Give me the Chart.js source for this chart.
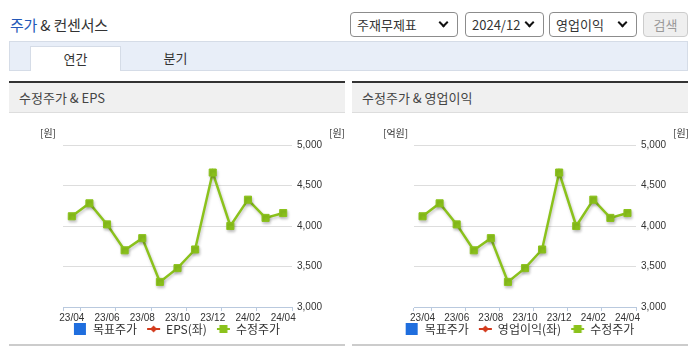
<!DOCTYPE html>
<html>
<head>
<meta charset="utf-8">
<script src="https://cdn.jsdelivr.net/npm/chart.js@4.4.1/dist/chart.umd.min.js"></script>
<style>
body{margin:0;width:695px;height:349px;overflow:hidden;background:#fff;position:relative;font-family:'Noto Sans CJK KR','Malgun Gothic',sans-serif;color:#333}
.abs{position:absolute}
#title{left:10px;top:15px;font-size:15px;letter-spacing:-0.2px;line-height:20px}
#title span{color:#2458b8}
.sel{position:absolute;top:12px;height:25px;box-sizing:border-box;border:1px solid #8c8c8c;border-radius:4px;font-size:13px;line-height:23px;padding-left:6px;background:#fff}
.sel i{position:absolute;right:10px;top:6px;width:5px;height:5px;border-right:2px solid #111;border-bottom:2px solid #111;transform:rotate(45deg)}
#btn{left:643px;width:45px;border-color:#ccc;background:#efefef;color:#999;text-align:center;padding:0}
#tabbar{left:9px;top:41px;width:679px;height:30px;box-sizing:border-box;background:#e8eef8;border:1px solid #d5dce7}
#tab1{left:30px;top:46px;width:91px;height:25px;box-sizing:border-box;background:#fff;border:1px solid #d5dce7;border-bottom:none;text-align:center;font-size:13px;line-height:23px}
#tab2{left:150px;top:46px;width:51px;text-align:center;font-size:13px;line-height:23px}
.ph{top:81px;width:336px;height:32px;box-sizing:border-box;border-top:2px solid #333;border-bottom:1px solid #ddd;background:#f0f0f0;font-size:13px;line-height:29px;padding-left:10px;color:#444}
.foot{top:344px;width:336px;height:2px;background:#ccc}
.unit{top:127px;font-size:10px;line-height:12px;color:#333}
.box{top:114px;width:336px;height:243px}
</style>
</head>
<body>
<div id="title" class="abs"><span>주가</span> &amp; 컨센서스</div>
<div class="sel" style="left:350px;width:108px">주재무제표<i></i></div>
<div class="sel" style="left:465px;width:79px">2024/12<i></i></div>
<div class="sel" style="left:549px;width:88px">영업이익<i></i></div>
<div class="sel" id="btn">검색</div>

<div id="tabbar" class="abs"></div>
<div id="tab1" class="abs">연간</div>
<div id="tab2" class="abs">분기</div>

<div class="abs ph" style="left:9px">수정주가 &amp; EPS</div>
<div class="abs ph" style="left:352px">수정주가 &amp; 영업이익</div>

<div class="abs box" style="left:9px"><canvas id="c1"></canvas></div>
<div class="abs box" style="left:352px"><canvas id="c2"></canvas></div>

<div class="abs unit" style="left:40px">[원]</div>
<div class="abs unit" style="left:329px">[원]</div>
<div class="abs unit" style="left:383px">[억원]</div>
<div class="abs unit" style="left:673px">[원]</div>

<div class="abs foot" style="left:9px"></div>
<div class="abs foot" style="left:352px"></div>

<script>
// monthly, 23/04 ~ 24/04
const months = ['23/04','23/05','23/06','23/07','23/08','23/09','23/10','23/11','23/12','24/01','24/02','24/03','24/04'];
const adjPrice = [4120, 4280, 4020, 3700, 3850, 3310, 3480, 3710, 4660, 4000, 4325, 4100, 4160];
const targetPrice = [];
const eps = [];
const opProfit = [];
const priceTicks = [3000, 3500, 4000, 4500, 5000];

const GREEN = '#8bc21c';
const BLUE = '#1f6ede';
const RED = '#d33a1c';

function legendIcon(kind, color) {
    var c = document.createElement('canvas');
    c.width = 15; c.height = 12;
    var g = c.getContext('2d');
    g.fillStyle = color;
    g.strokeStyle = color;
    if (kind == 'square') {
        g.fillRect(1, 0, 12, 12);
    } else {
        g.lineWidth = 2;
        g.beginPath(); g.moveTo(1, 6); g.lineTo(14, 6); g.stroke();
        g.beginPath();
        if (kind == 'diamond') {
            g.moveTo(7.5, 2.5); g.lineTo(11, 6); g.lineTo(7.5, 9.5); g.lineTo(4, 6);
        } else {
            g.rect(3.5, 2, 8, 8);
        }
        g.fill();
    }
    return c;
}
const icons = [legendIcon('square', BLUE), legendIcon('diamond', RED), legendIcon('rect', GREEN)];

const shadow = {
    id: 'shadow',
    beforeDatasetDraw(chart) {
        const c = chart.ctx;
        c.save();
        c.shadowColor = 'rgba(0,0,0,0.22)';
        c.shadowBlur = 3;
        c.shadowOffsetX = 1;
        c.shadowOffsetY = 2;
    },
    afterDatasetDraw(chart) {
        chart.ctx.restore();
    }
};

// pull the legend up closer to the axis labels
const legendUp = {
    id: 'legendUp',
    afterUpdate(chart) {
        chart.legend.top -= 12;
        chart.legend.bottom -= 12;
        chart.legend.adjustHitBoxes();
    }
};

Chart.defaults.font.family = "'Liberation Sans','Noto Sans CJK KR',sans-serif";
Chart.defaults.color = '#333';

function makeChart(id, leftName, leftData, leftW, rightW) {
    return new Chart(document.getElementById(id), {
        type: 'line',
        data: {
            labels: months,
            datasets: [
                {type: 'bar', label: '목표주가', data: targetPrice, backgroundColor: BLUE, yAxisID: 'yR'},
                {label: leftName, data: leftData, borderColor: RED, backgroundColor: RED, pointStyle: 'rectRot', yAxisID: 'yL'},
                {label: '수정주가', data: adjPrice, borderColor: GREEN, backgroundColor: GREEN,
                 borderWidth: 2.5, pointStyle: 'rect', pointRadius: 5, pointBorderWidth: 1,
                 pointHoverRadius: 5, tension: 0, yAxisID: 'yR'}
            ]
        },
        options: {
            responsive: false,
            animation: false,
            layout: {padding: {top: 31}},
            plugins: {
                tooltip: {enabled: false},
                legend: {
                    position: 'bottom',
                    labels: {
                        usePointStyle: true,
                        pointStyleWidth: 13,
                        padding: 10,
                        color: '#333',
                        font: {size: 12, family: "'Noto Sans CJK KR',sans-serif"},
                        generateLabels(chart) {
                            const items = Chart.defaults.plugins.legend.labels.generateLabels(chart);
                            items.forEach(function(it, i){ it.pointStyle = icons[i]; it.fontColor = '#333'; });
                            return items;
                        }
                    }
                }
            },
            scales: {
                x: {
                    offset: true,
                    grid: {
                        offset: true, drawOnChartArea: false, tickLength: 4,
                        color: c => (c.index === undefined || c.index === 0 || c.index % 2 === 1) ? '#b9c9de' : 'rgba(0,0,0,0)'
                    },
                    border: {color: '#b9c9de'},
                    ticks: {
                        autoSkip: false, maxRotation: 0, padding: 1, font: {size: 10},
                        callback: (v, i) => i % 2 ? '' : months[i]
                    }
                },
                yL: {
                    position: 'left',
                    grid: {display: false},
                    border: {display: false},
                    ticks: {display: false},
                    afterFit: s => { s.width = leftW; }
                },
                yR: {
                    position: 'right',
                    min: priceTicks[0],
                    max: priceTicks[priceTicks.length - 1],
                    grid: {color: '#dddddd', drawTicks: false},
                    border: {display: false},
                    ticks: {stepSize: 500, padding: 5, font: {size: 10}, callback: v => v.toLocaleString('en-US')},
                    afterFit: s => { s.width = rightW; }
                }
            }
        },
        plugins: [shadow, legendUp]
    });
}

['c1', 'c2'].forEach(function(id){
    document.getElementById(id).width = 336;
    document.getElementById(id).height = 243;
});
makeChart('c1', 'EPS(좌)', eps, 54, 53);
makeChart('c2', '영업이익(좌)', opProfit, 62, 52);
</script>
</body>
</html>
